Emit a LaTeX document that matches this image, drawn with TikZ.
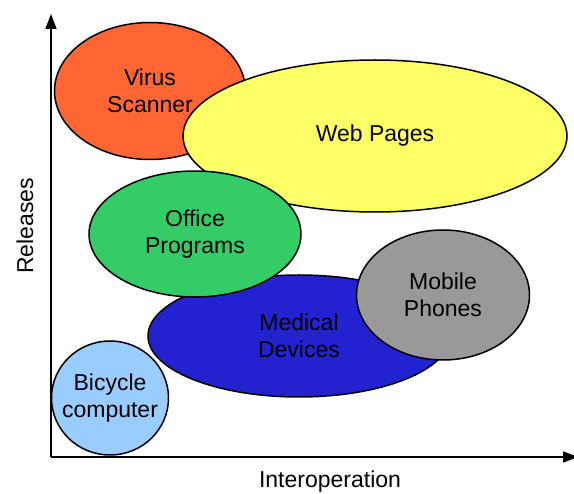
\documentclass[tikz,border=0pt]{standalone}
\usepackage{fontspec}
\setmainfont{Liberation Sans}
\usepackage{xcolor}
\usetikzlibrary{shapes.geometric,arrows.meta}

\definecolor{virusred}{HTML}{FF6633}
\definecolor{webyellow}{HTML}{FFFF66}
\definecolor{officegreen}{HTML}{33CC66}
\definecolor{medblue}{HTML}{2222D0}
\definecolor{mobilegray}{HTML}{999999}
\definecolor{bikeblue}{HTML}{99CCFF}

\begin{document}
\begin{tikzpicture}[
    x=1pt, y=-1pt,
    font=\fontsize{23}{27}\selectfont,
    blob/.style={ellipse, draw, line width=1.5pt, inner sep=0pt, align=center},
    axis/.style={-{Triangle[length=15pt,width=11pt]}, line width=1.6pt}
]
\useasboundingbox (0,0) rectangle (574,494);

% axes
\coordinate (origin) at (51,457);
\coordinate (ytip) at (51,14);
\coordinate (xtip) at (578,457);
\draw[axis] (origin) -- (ytip);
\draw[axis] (origin) -- (xtip);
\node[rotate=90] (releases) at (25,226) {Releases};
\node (interop) at (330,482) {Interoperation};

% application areas
\node[blob, fill=virusred, minimum width=191pt, minimum height=137pt] (virus) at (150,91) {Virus\\Scanner};
\node[blob, fill=webyellow, minimum width=384pt, minimum height=152pt] (web) at (375,136) {Web Pages};
\node[blob, fill=medblue, minimum width=302pt, minimum height=122pt] (medical) at (299,336) {Medical\\Devices};
\node[blob, fill=mobilegray, minimum width=173pt, minimum height=130pt] (mobile) at (443,295) {Mobile\\Phones};
\node[blob, fill=officegreen, minimum width=212pt, minimum height=126pt] (office) at (195,234) {Office\\Programs};
\node[blob, fill=bikeblue, inner sep=-9pt, minimum width=117pt, minimum height=114pt] (bicycle) at (110,398) {Bicycle\\computer};

\end{tikzpicture}
\end{document}
